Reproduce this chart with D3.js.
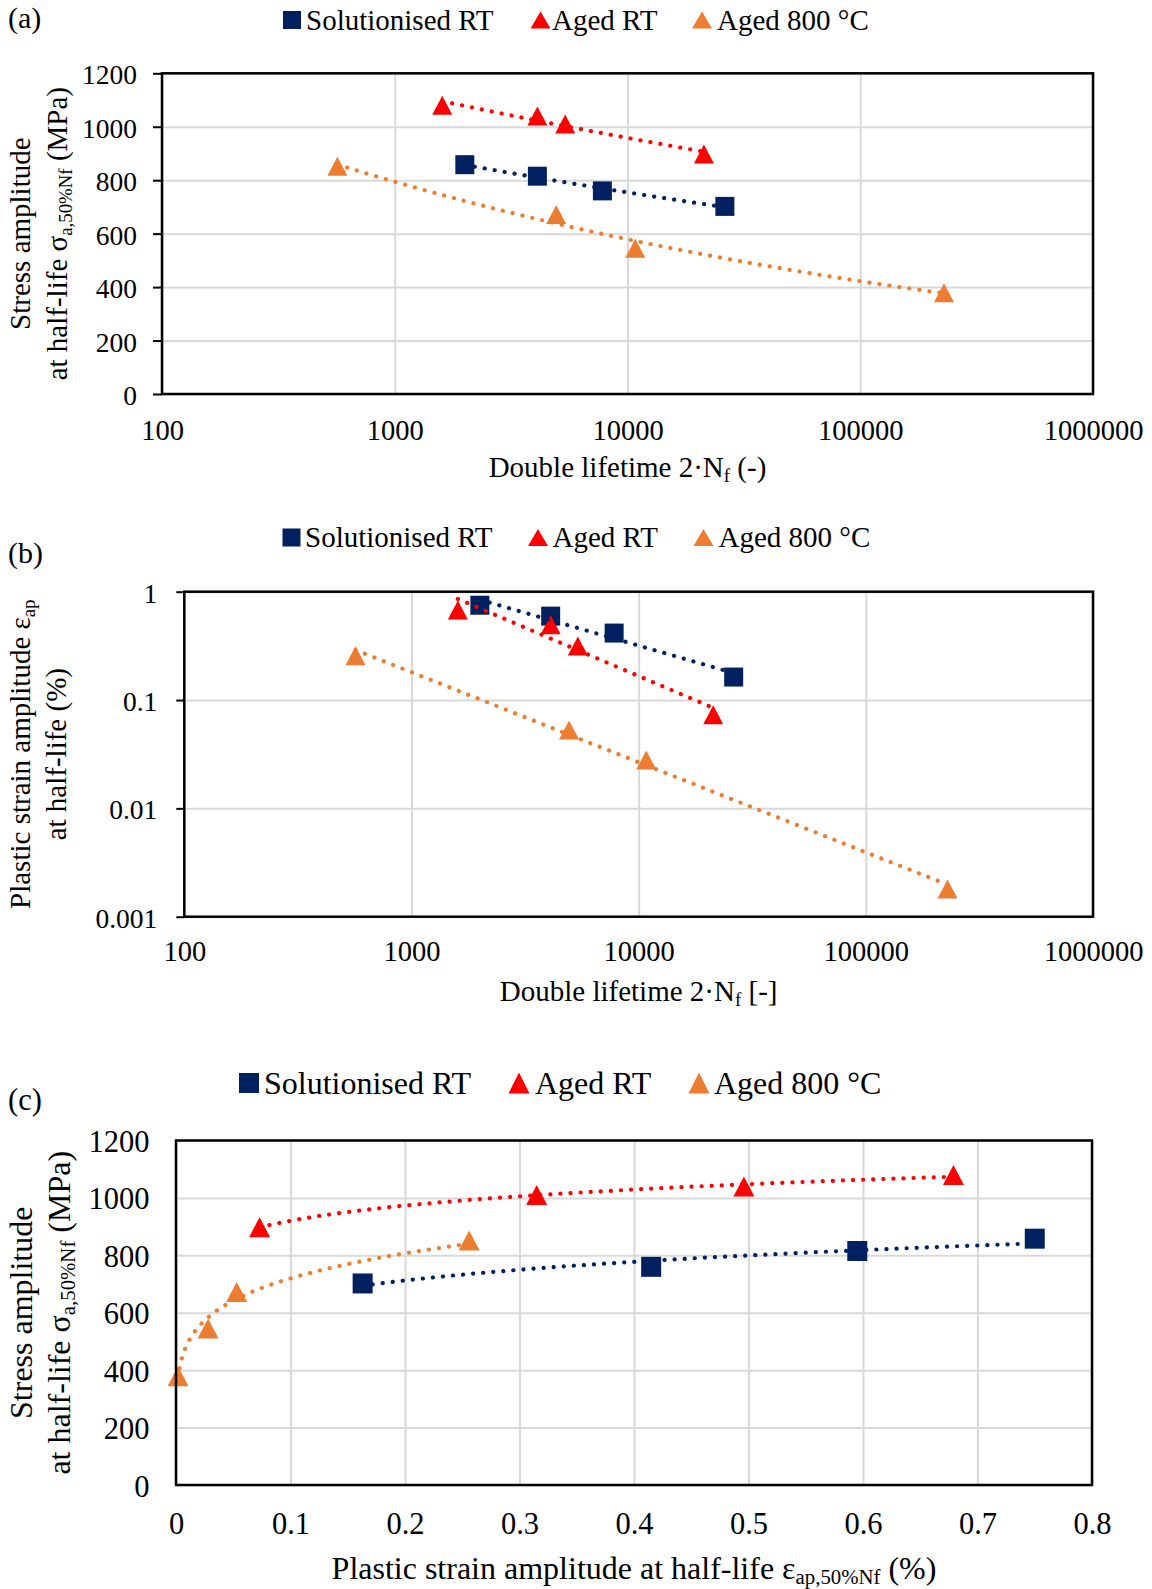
<!DOCTYPE html>
<html>
<head>
<meta charset="utf-8">
<script src="https://cdnjs.cloudflare.com/ajax/libs/d3/7.8.5/d3.min.js"></script>
<style>
body { margin: 0; background: #fff; }
svg text { font-family: "Liberation Serif", "Times New Roman", serif; fill: #000; }
</style>
</head>
<body>
<div id="chart"></div>
<script>
// series
var seriesNames = ["Solutionised RT", "Aged RT", "Aged 800 °C"];
var seriesColors = ["#002060", "#ff0000", "#ed7d31"];
var seriesShapes = ["square", "triangle", "triangle"];

// double lifetime 2Nf
var solLife = [2000, 4100, 7800, 26200];
var agedRtLife = [1600, 4100, 5400, 21300];
var aged800Life = [567, 4940, 10800, 229000];

// stress amplitude at half-life (MPa)
var solStress = [858, 815, 760, 702];
var agedRtStress = [1080, 1040, 1010, 898];
var aged800Stress = [852, 672, 545, 379];

// plastic strain amplitude at half-life (%)
var solStrain = [0.75, 0.595, 0.415, 0.163];
var agedRtStrain = [0.679, 0.496, 0.315, 0.073];
var aged800Strain = [0.256, 0.053, 0.028, 0.0018];

// ticks
var lifeTicks = [100, 1000, 10000, 100000, 1000000];
var lifeLabels = ["100", "1000", "10000", "100000", "1000000"];
var stressTicks = [0, 200, 400, 600, 800, 1000, 1200];
var stressLabels = ["0", "200", "400", "600", "800", "1000", "1200"];
var strainLogTicks = [0.001, 0.01, 0.1, 1];
var strainLogLabels = ["0.001", "0.01", "0.1", "1"];
var strainTicks = [0, 0.1, 0.2, 0.3, 0.4, 0.5, 0.6, 0.7, 0.8];
var strainLabels = ["0", "0.1", "0.2", "0.3", "0.4", "0.5", "0.6", "0.7", "0.8"];

var lives = [solLife, agedRtLife, aged800Life];
var stresses = [solStress, agedRtStress, aged800Stress];
var strains = [solStrain, agedRtStrain, aged800Strain];

var svg = d3.select("#chart").append("svg")
    .attr("width", 1152)
    .attr("height", 1589);
svg.append("rect").attr("width", 1152).attr("height", 1589).attr("fill", "#fff");

function markerPath(shape, w, h) {
    if (shape == "square") {
        return "M" + (-w/2) + "," + (-h/2) + "h" + w + "v" + h + "h" + (-w) + "Z";
    }
    return "M0," + (-h/2) + "L" + (w/2) + "," + (h/2) + "L" + (-w/2) + "," + (h/2) + "Z";
}

// least squares power fit y = a*x^b, as Excel's power trendline
function powerFit(xs, ys) {
    var lx = xs.map(Math.log), ly = ys.map(Math.log);
    var mx = d3.mean(lx), my = d3.mean(ly);
    var sxy = d3.sum(lx, function(d, i) { return (d - mx) * (ly[i] - my); });
    var sxx = d3.sum(lx, function(d) { return (d - mx) * (d - mx); });
    var b = sxy / sxx;
    var a = Math.exp(my - b * mx);
    return function(x) { return a * Math.pow(x, b); };
}

function drawPanel(p) {
    var g = svg.append("g");
    var w = p.right - p.left, h = p.bottom - p.top;

    // gridlines
    g.append("g")
        .attr("transform", "translate(0," + p.bottom + ")")
        .call(d3.axisBottom(p.x).tickValues(p.xGrid).tickSize(-h).tickFormat(""))
        .call(function(s) { s.select(".domain").remove(); })
        .selectAll("line").attr("stroke", "#d9d9d9").attr("stroke-width", 2);
    g.append("g")
        .attr("transform", "translate(" + p.left + ",0)")
        .call(d3.axisLeft(p.y).tickValues(p.yGrid).tickSize(-w).tickFormat(""))
        .call(function(s) { s.select(".domain").remove(); })
        .selectAll("line").attr("stroke", "#d9d9d9").attr("stroke-width", 2);

    // y axis ticks + labels
    var yAx = g.append("g")
        .attr("transform", "translate(" + p.left + ",0)")
        .call(d3.axisLeft(p.y).tickValues(p.yTicks).tickSize(p.yTickSize)
            .tickFormat(function(d, i) { return p.yLabels[i]; }));
    yAx.select(".domain").remove();
    yAx.selectAll("line").attr("stroke", "#000").attr("stroke-width", 2);
    yAx.selectAll("text")
        .attr("x", p.yLabelDx).attr("dy", null).attr("y", p.yLabelDy)
        .style("font-size", p.yFont + "px")
        .attr("font-family", null).attr("fill", "#000");

    // x axis labels
    var xAx = g.append("g")
        .attr("transform", "translate(0," + p.bottom + ")")
        .call(d3.axisBottom(p.x).tickValues(p.xTicks).tickSize(0)
            .tickFormat(function(d, i) { return p.xLabels[i]; }));
    xAx.select(".domain").remove();
    xAx.selectAll("text")
        .attr("y", p.xLabelY - p.bottom).attr("dy", null)
        .style("font-size", p.xFont + "px")
        .attr("font-family", null).attr("fill", "#000");

    // markers
    p.series.forEach(function(s, si) {
        g.selectAll(".m" + si)
            .data(s.xs.map(function(d, i) { return {x: d, y: s.ys[i]}; }))
            .enter().append("path")
            .attr("d", markerPath(seriesShapes[si], seriesShapes[si] == "square" ? p.sq : p.triW,
                seriesShapes[si] == "square" ? p.sq : p.triH))
            .attr("transform", function(d) { return "translate(" + p.x(d.x) + "," + p.y(d.y) + ")"; })
            .attr("fill", seriesColors[si]);
    });

    // trendlines
    p.series.forEach(function(s, si) {
        var f = powerFit(s.xs, s.ys);
        var x0 = d3.min(s.xs), x1 = d3.max(s.xs);
        var pts = d3.range(0, 121).map(function(i) {
            var x = x0 * Math.pow(x1 / x0, i / 120);
            return [x, f(x)];
        });
        var line = d3.line()
            .x(function(d) { return p.x(d[0]); })
            .y(function(d) { return p.y(d[1]); });
        g.append("path")
            .attr("d", line(pts))
            .attr("fill", "none")
            .attr("stroke", seriesColors[si])
            .attr("stroke-width", 4.2)
            .attr("stroke-linecap", "round")
            .attr("stroke-dasharray", "0.1 10");
    });

    // frame
    g.append("rect")
        .attr("x", p.left).attr("y", p.top)
        .attr("width", w).attr("height", h)
        .attr("fill", "none").attr("stroke", "#000").attr("stroke-width", 2.5);

    // legend
    p.legend.items.forEach(function(it, si) {
        var isSq = seriesShapes[si] == "square";
        g.append("path")
            .attr("d", markerPath(seriesShapes[si], isSq ? p.legend.sq : p.legend.triW,
                isSq ? p.legend.sq : p.legend.triH))
            .attr("transform", "translate(" + it.mx + "," + p.legend.my + ")")
            .attr("fill", seriesColors[si]);
        g.append("text")
            .attr("x", it.tx).attr("y", p.legend.base)
            .style("font-size", p.legend.font + "px")
            .text(seriesNames[si]);
    });

    // panel label
    g.append("text")
        .attr("x", 8).attr("y", p.tagY)
        .style("font-size", p.tagFont + "px")
        .text(p.tag);

    // axis titles
    var xt = g.append("text")
        .attr("x", (p.left + p.right) / 2).attr("y", p.xTitleY)
        .attr("text-anchor", "middle")
        .style("font-size", p.titleFont + "px");
    p.xTitle(xt);

    p.yTitle.forEach(function(fn, i) {
        var t = g.append("text")
            .attr("transform", "translate(" + p.yTitleX[i] + "," + ((p.top + p.bottom) / 2) + ") rotate(-90)")
            .attr("text-anchor", "middle")
            .style("font-size", p.titleFont + "px");
        fn(t);
    });
}

function sub(t, main, subText, rest) {
    t.append("tspan").text(main);
    t.append("tspan").attr("dy", "0.25em").style("font-size", "0.65em").text(subText);
    if (rest) t.append("tspan").attr("dy", "-0.1625em").text(rest);
}

// (a)
drawPanel({
    tag: "(a)", tagY: 28, tagFont: 30,
    left: 162, right: 1093, top: 73.3, bottom: 394,
    x: d3.scaleLog().domain([100, 1000000]).range([162, 1093]),
    y: d3.scaleLinear().domain([0, 1200]).range([394, 73.3]),
    xGrid: lifeTicks, yGrid: stressTicks,
    xTicks: lifeTicks, xLabels: lifeLabels, xLabelY: 440, xFont: 28.5,
    yTicks: stressTicks, yLabels: stressLabels, yTickSize: 9, yLabelDx: -25, yLabelDy: 10.5, yFont: 27.5,
    sq: 19, triW: 20, triH: 19,
    series: [0, 1, 2].map(function(i) { return {xs: lives[i], ys: stresses[i]}; }),
    legend: {my: 20, base: 29.5, font: 29, sq: 18, triW: 20, triH: 17,
        items: [{mx: 292, tx: 306}, {mx: 540.5, tx: 552}, {mx: 702, tx: 717}]},
    titleFont: 29, xTitleY: 477,
    xTitle: function(t) { sub(t, "Double lifetime 2·N", "f", " (-)"); },
    yTitleX: [29.5, 67],
    yTitle: [
        function(t) { t.text("Stress amplitude"); },
        function(t) { sub(t, "at half-life σ", "a,50%Nf", " (MPa)"); }
    ]
});

// (b)
drawPanel({
    tag: "(b)", tagY: 563, tagFont: 30,
    left: 184.3, right: 1093, top: 591.7, bottom: 916.7,
    x: d3.scaleLog().domain([100, 1000000]).range([184.3, 1093]),
    y: d3.scaleLog().domain([0.001, 1]).range([916.7, 591.7]),
    xGrid: lifeTicks, yGrid: strainLogTicks,
    xTicks: lifeTicks, xLabels: lifeLabels, xLabelY: 961.5, xFont: 28.5,
    yTicks: strainLogTicks, yLabels: strainLogLabels, yTickSize: 8, yLabelDx: -27, yLabelDy: 10.5, yFont: 27.5,
    sq: 19, triW: 20, triH: 19,
    series: [0, 1, 2].map(function(i) { return {xs: lives[i], ys: strains[i]}; }),
    legend: {my: 537.5, base: 547, font: 29, sq: 18, triW: 20, triH: 17,
        items: [{mx: 291.5, tx: 305}, {mx: 538, tx: 552.5}, {mx: 703.5, tx: 718.5}]},
    titleFont: 29, xTitleY: 1001,
    xTitle: function(t) { sub(t, "Double lifetime 2·N", "f", " [-]"); },
    yTitleX: [30, 66],
    yTitle: [
        function(t) { sub(t, "Plastic strain amplitude ε", "ap"); },
        function(t) { t.text("at half-life (%)"); }
    ]
});

// (c)
drawPanel({
    tag: "(c)", tagY: 1110, tagFont: 30.5,
    left: 176, right: 1092, top: 1140.5, bottom: 1485,
    x: d3.scaleLinear().domain([0, 0.8]).range([176, 1092]),
    y: d3.scaleLinear().domain([0, 1200]).range([1485, 1140.5]),
    xGrid: strainTicks, yGrid: stressTicks,
    xTicks: strainTicks, xLabels: strainLabels, xLabelY: 1533.5, xFont: 30.5,
    yTicks: stressTicks, yLabels: stressLabels, yTickSize: 0, yLabelDx: -26.5, yLabelDy: 11, yFont: 30.5,
    sq: 20, triW: 21, triH: 20,
    series: [0, 1, 2].map(function(i) { return {xs: strains[i], ys: stresses[i]}; }),
    legend: {my: 1083, base: 1093.5, font: 32, sq: 20, triW: 21, triH: 21,
        items: [{mx: 249, tx: 264}, {mx: 519, tx: 535}, {mx: 699, tx: 714}]},
    titleFont: 32, xTitleY: 1579,
    xTitle: function(t) { sub(t, "Plastic strain amplitude at half-life ε", "ap,50%Nf", " (%)"); },
    yTitleX: [31.5, 70],
    yTitle: [
        function(t) { t.text("Stress amplitude"); },
        function(t) { sub(t, "at half-life σ", "a,50%Nf", " (MPa)"); }
    ]
});
</script>
</body>
</html>
